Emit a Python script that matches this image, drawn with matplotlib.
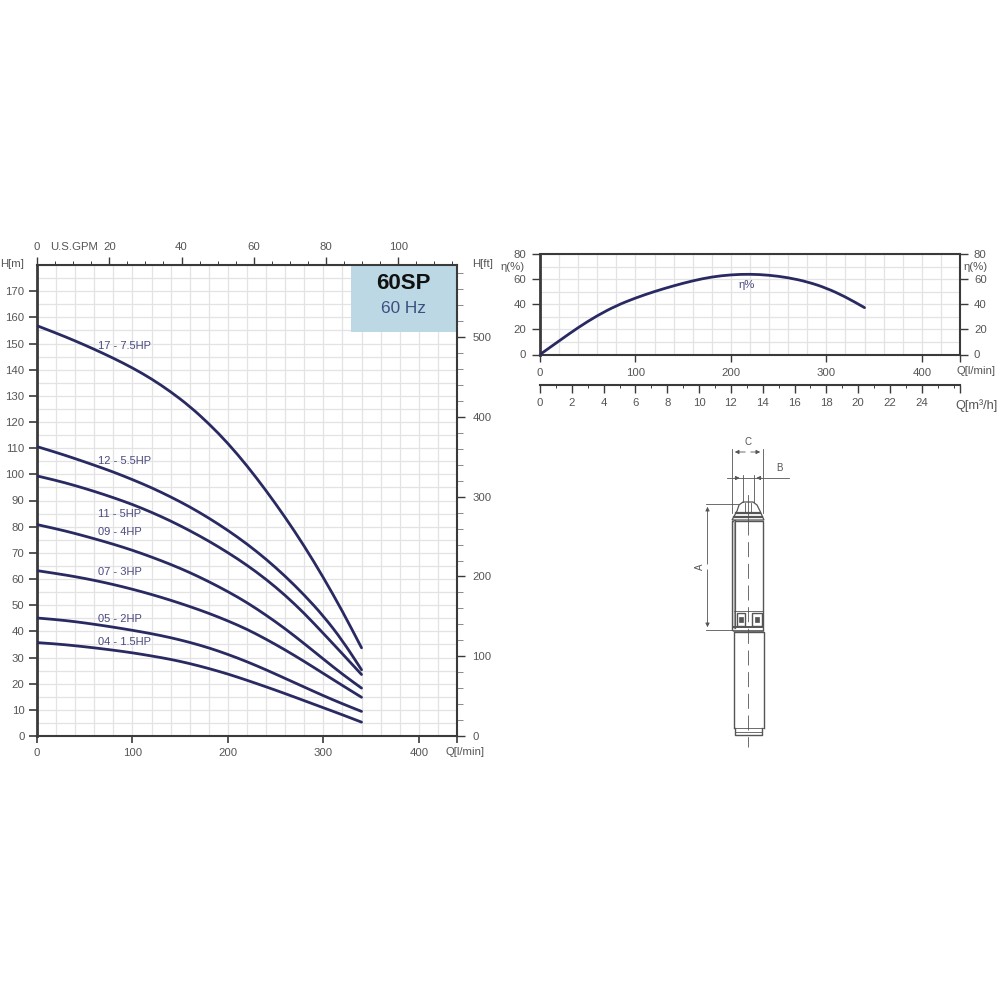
# pump curves for 60SP, 60 Hz, performance + efficiency + outline drawing
import matplotlib
matplotlib.use("Agg")
import matplotlib.pyplot as plt
from matplotlib.patches import Rectangle, Polygon, PathPatch
from matplotlib.path import Path
from matplotlib.ticker import MultipleLocator, FixedLocator

plt.rcParams['font.family'] = ['Liberation Sans', 'DejaVu Sans']

# flow points, l/min
flow = [0, 20, 40, 60, 80, 100, 120, 140, 160, 180, 200, 220, 240, 260, 280, 300, 320, 340]

# head in metres, one list per model
head17 = [156.8, 154, 151, 147.8, 144.4, 140.7, 136.5, 131.6, 126, 119.4, 111.9, 103.3, 93.8, 83.6, 72.6, 60.6, 47.7, 33.7]
head12 = [110.6, 108.4, 106, 103.5, 100.9, 98, 94.9, 91.4, 87.6, 83.3, 78.6, 73.4, 67.6, 61.1, 53.9, 45.9, 36.5, 25.3]
head11 = [99.4, 97.7, 95.7, 93.5, 91.1, 88.5, 85.5, 82.2, 78.5, 74.5, 70.1, 65.3, 59.9, 53.8, 46.9, 39.2, 31.4, 23.5]
head09 = [80.8, 79.2, 77.4, 75.4, 73.3, 71, 68.4, 65.6, 62.5, 59, 55.2, 51, 46.2, 41, 35.3, 29.4, 23.6, 18.3]
head07 = [63.2, 62.1, 60.9, 59.5, 57.9, 56.1, 54.1, 51.9, 49.5, 46.9, 44, 40.8, 37, 32.9, 28.5, 23.9, 19.3, 14.8]
head05 = [45.1, 44.5, 43.7, 42.7, 41.6, 40.4, 39.1, 37.6, 35.8, 33.7, 31.2, 28.4, 25.3, 22, 18.7, 15.4, 12.3, 9.4]
head04 = [35.7, 35.2, 34.5, 33.7, 32.8, 31.8, 30.6, 29.3, 27.7, 25.8, 23.7, 21.3, 18.8, 16.2, 13.5, 10.8, 8.1, 5.3]
heads = [head17, head12, head11, head09, head07, head05, head04]

models = ["17 - 7.5HP", "12 - 5.5HP", "11 - 5HP", "09 - 4HP", "07 - 3HP", "05 - 2HP", "04 - 1.5HP"]

# efficiency in %, same flow points
eta = [0, 10.8, 21.5, 31, 38.9, 45, 50.2, 54.7, 58.7, 61.8, 63.5, 64, 63.2, 61.2, 57.9, 52.9, 45.9, 37.3]

# where the model names sit (Q, H)
labelQ = [64, 64, 64, 64, 64, 64, 64]
labelH = [149, 105.2, 85, 78.1, 62.5, 44.9, 36.1]

textGrey = "#555555"
lineGrey = "#3a3a3a"
gridGrey = "#e3e3e3"
curveBlue = "#2a2a62"
labelBlue = "#4a4a80"
SIZE = 8.2


def axesAt(fig, left, top, right, bottom):
	# pixel box of the 1000x1000 picture to a figure rectangle
	return fig.add_axes([left / 1000, 1 - bottom / 1000, (right - left) / 1000, (bottom - top) / 1000])


def setupPanel(ax, xmax, ymax, stepY):
	ax.set_xlim(0, xmax)
	ax.set_ylim(0, ymax)
	ax.xaxis.set_minor_locator(MultipleLocator(20))
	ax.yaxis.set_minor_locator(MultipleLocator(stepY))
	ax.grid(True, which='both', color=gridGrey, linewidth=0.9)
	ax.set_axisbelow(True)
	ax.tick_params(which='minor', length=0)
	for side in ax.spines :
		ax.spines[side].set_color(lineGrey)
		ax.spines[side].set_linewidth(1.5)
	ax.spines['left'].set_linewidth(2.0)


def drawCurve(ax, x, y):
	# the read points steer a quadratic path, so the curve has no corners at them
	verts = [(x[0], y[0])]
	codes = [Path.MOVETO]
	for i in range(1, len(x) - 1) :
		verts.append((x[i], y[i]))
		verts.append(((x[i] + x[i + 1]) / 2, (y[i] + y[i + 1]) / 2))
		codes += [Path.CURVE3, Path.CURVE3]
	verts.append((x[-1], y[-1]))
	codes.append(Path.LINETO)
	ax.add_patch(PathPatch(Path(verts, codes), fill=False, edgecolor=curveBlue, linewidth=2.0, capstyle='round', zorder=3))


def pumpDrawing(ax):
	# outline of the pump, pixel coordinates of the picture
	c = "#555555"
	thin = dict(color=c, linewidth=0.6)
	body = dict(color=c, linewidth=1.0)

	# dimension C
	ax.plot([732, 732], [449, 513], **thin)
	ax.plot([763, 763], [449, 513], **thin)
	ax.annotate("", xy=(732, 452), xytext=(748, 452), arrowprops=dict(arrowstyle='-|>', color=c, lw=0.6, mutation_scale=6))
	ax.annotate("", xy=(763, 452), xytext=(748, 452), arrowprops=dict(arrowstyle='-|>', color=c, lw=0.6, mutation_scale=6))

	# dimension B
	ax.plot([727, 789], [478, 478], **thin)
	ax.plot([742.5, 742.5], [475, 502], **thin)
	ax.plot([753.5, 753.5], [475, 502], **thin)
	ax.annotate("", xy=(742.5, 478), xytext=(732, 478), arrowprops=dict(arrowstyle='-|>', color=c, lw=0.6, mutation_scale=6))
	ax.annotate("", xy=(753.5, 478), xytext=(764, 478), arrowprops=dict(arrowstyle='-|>', color=c, lw=0.6, mutation_scale=6))

	# dimension A
	ax.plot([706, 738], [504, 504], **thin)
	ax.plot([706, 733], [630, 630], **thin)
	ax.annotate("", xy=(707.5, 504), xytext=(707.5, 567), arrowprops=dict(arrowstyle='-|>', color=c, lw=0.6, mutation_scale=6))
	ax.annotate("", xy=(707.5, 630), xytext=(707.5, 567), arrowprops=dict(arrowstyle='-|>', color=c, lw=0.6, mutation_scale=6))

	# centre line
	ax.plot([748, 748], [495, 520], **thin)
	ax.plot([748, 748], [520, 747], color=c, linewidth=0.6, linestyle=(0, (18, 8)))

	# head
	ax.add_patch(Polygon([[732, 520], [737, 511], [739, 505], [743, 502], [753, 502], [757, 505], [760, 511], [764, 520]],
		closed=True, fill=False, edgecolor=c, linewidth=0.9))
	ax.plot([736, 760], [513, 513], color=c, linewidth=1.6)
	ax.plot([734, 762], [517, 517], color=c, linewidth=1.6)
	ax.plot([745, 745], [503, 512], **thin)
	ax.plot([751, 751], [503, 512], **thin)

	# pump body, with the cable guard on the left
	ax.plot([732, 732, 763, 763], [630, 521, 521, 630], **body)
	ax.plot([735, 735], [521, 628], color=c, linewidth=1.6)
	ax.plot([733.5, 733.5], [521, 628], color="#999999", linewidth=0.8)

	# inlet screen
	ax.plot([734, 763], [611, 611], **thin)
	ax.plot([734, 763], [627, 627], color=c, linewidth=1.4)
	ax.plot([734, 763], [631, 631], color=c, linewidth=1.2)
	ax.add_patch(Rectangle((737, 613), 8, 13, fill=False, edgecolor=c, linewidth=1.0))
	ax.add_patch(Rectangle((752, 613), 10, 13, fill=False, edgecolor=c, linewidth=1.0))
	ax.add_patch(Rectangle((739, 617), 4, 5, facecolor=c, edgecolor=c, linewidth=0.5))
	ax.add_patch(Rectangle((755, 617), 4, 5, facecolor=c, edgecolor=c, linewidth=0.5))

	# motor
	ax.plot([733.5, 733.5, 764, 764], [728, 632, 632, 728], **body)
	ax.plot([733.5, 764], [728, 728], **thin)
	ax.plot([735, 735, 762, 762], [728, 735, 735, 728], **body)
	ax.plot([735, 762], [731.5, 731.5], **thin)

	ax.text(700, 567, "A", rotation=90, ha='center', va='center', fontsize=7, color=c)
	ax.text(748, 442, "C", ha='center', va='center', fontsize=7, color=c)
	ax.text(779, 468, "B", ha='center', va='center', fontsize=7, color=c)


fig = plt.figure(figsize=(10, 10), dpi=100)

# main chart
ax = axesAt(fig, 37, 265, 457, 736)
setupPanel(ax, 440, 180, 5)
ax.set_xticks([0, 100, 200, 300, 400, 440], ["0", "100", "200", "300", "400", ""])
ax.set_yticks(range(0, 171, 10))
ax.tick_params(which='major', length=6, width=1.2, color=lineGrey, labelcolor=textGrey, labelsize=SIZE, pad=3)
ax.tick_params(axis='x', which='major', length=5, pad=3.5)

ax.add_patch(Rectangle((329, 154.5), 111, 25.5, facecolor="#bcd8e4", edgecolor='none', zorder=1.5))
ax.text(384, 173, "60SP", ha='center', va='center', fontsize=16, fontweight='bold', color="#111111")
ax.text(384, 163.5, "60 Hz", ha='center', va='center', fontsize=12.4, color="#3d4f80")

for h, name, lq, lh in zip(heads, models, labelQ, labelH) :
	drawCurve(ax, flow, h)
	ax.text(lq, lh, name, ha='left', va='center', fontsize=8, color=labelBlue, zorder=4)

# US GPM on top
gpm = ax.secondary_xaxis('top', functions=(lambda q: q / 3.785, lambda g: g * 3.785))
gpm.xaxis.set_major_locator(FixedLocator([0, 20, 40, 60, 80, 100]))
gpm.xaxis.set_minor_locator(MultipleLocator(5))
gpm.tick_params(which='major', length=6, width=1.0, color=lineGrey, labelcolor=textGrey, labelsize=SIZE, pad=3)
gpm.tick_params(which='minor', length=3, width=0.7, color=lineGrey)
gpm.spines['top'].set_visible(False)

# feet on the right
ft = ax.secondary_yaxis('right', functions=(lambda h: h * 3.281, lambda f: f / 3.281))
ft.yaxis.set_major_locator(FixedLocator([0, 100, 200, 300, 400, 500]))
ft.yaxis.set_minor_locator(MultipleLocator(20))
ft.tick_params(which='major', length=6, width=1.0, color=lineGrey, labelcolor=textGrey, labelsize=SIZE, pad=5)
ft.tick_params(which='minor', length=4, width=0.6, color="#777777")
ft.spines['right'].set_visible(False)

# efficiency chart
ax2 = axesAt(fig, 540, 254, 960, 354.5)
setupPanel(ax2, 440, 80, 10)
ax2.set_xticks([0, 100, 200, 300, 400, 440], ["0", "100", "200", "300", "400", ""])
ax2.set_yticks(range(0, 81, 20))
ax2.tick_params(which='major', length=6, width=1.0, color=lineGrey, labelcolor=textGrey, labelsize=SIZE, pad=4)
ax2.tick_params(axis='x', which='major', length=5, pad=5)
drawCurve(ax2, flow, eta)
ax2.text(217, 55.4, "η%", ha='center', va='center', fontsize=SIZE, color=labelBlue)

etaRight = ax2.secondary_yaxis('right')
etaRight.yaxis.set_major_locator(FixedLocator(range(0, 81, 20)))
etaRight.tick_params(which='major', length=6, width=1.0, color=lineGrey, labelcolor=textGrey, labelsize=SIZE, pad=4)
etaRight.spines['right'].set_visible(False)

# m3/h scale under the efficiency chart, the last tick closes the scale
m3h = ax2.secondary_xaxis(-0.3, functions=(lambda q: q * 0.06, lambda m: m / 0.06))
m3h.set_xticks(list(range(0, 25, 2)) + [26.4], [str(v) for v in range(0, 25, 2)] + [""])
m3h.xaxis.set_minor_locator(MultipleLocator(1))
m3h.tick_params(which='major', length=6, width=1.0, color=lineGrey, labelcolor=textGrey, labelsize=SIZE, pad=3.5)
m3h.tick_params(which='minor', length=2.5, width=0.7, color=lineGrey)
m3h.spines['bottom'].set_color(lineGrey)
m3h.spines['bottom'].set_linewidth(1.5)

# everything that is not tied to an axis goes on a full page overlay in pixels
page = fig.add_axes([0, 0, 1, 1], facecolor='none')
page.set_xlim(0, 1000)
page.set_ylim(1000, 0)
page.axis('off')

pumpDrawing(page)

page.text(12, 264, "H[m]", ha='center', va='center', fontsize=SIZE, color=textGrey)
page.text(50, 247, "U.S.GPM", ha='left', va='center', fontsize=SIZE, color=textGrey)
page.text(483, 264, "H[ft]", ha='center', va='center', fontsize=SIZE, color=textGrey)
page.text(465, 752, "Q[l/min]", ha='center', va='center', fontsize=SIZE, color=textGrey)
page.text(513, 267, "η(%)", ha='center', va='center', fontsize=SIZE, color=textGrey)
page.text(976, 267, "η(%)", ha='center', va='center', fontsize=SIZE, color=textGrey)
page.text(976, 371, "Q[l/min]", ha='center', va='center', fontsize=SIZE, color=textGrey)
page.text(977, 406, "Q[m³/h]", ha='center', va='center', fontsize=SIZE + 1, color=textGrey)

fig.savefig("out.png", dpi=100)
plt.close(fig)
